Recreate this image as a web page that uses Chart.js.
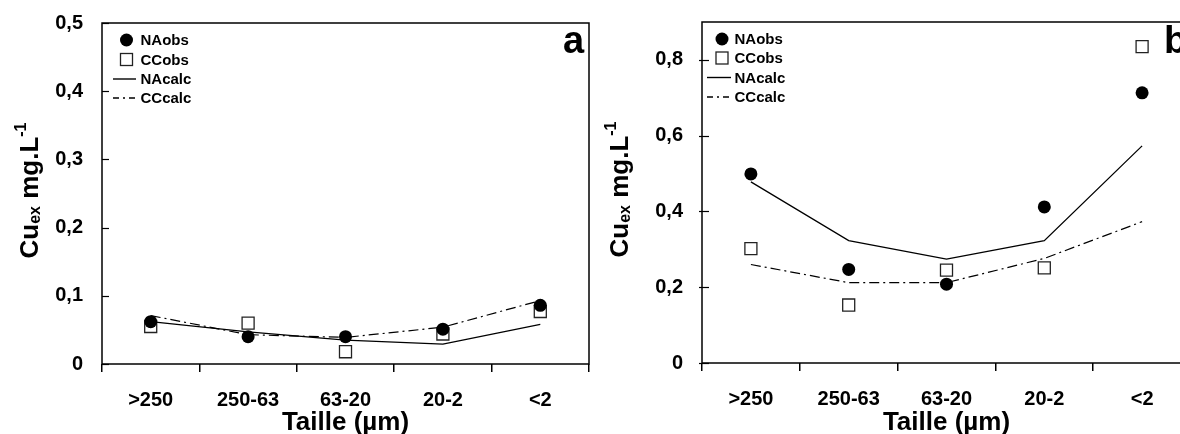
<!DOCTYPE html>
<html><head><meta charset="utf-8">
<script src="https://cdn.jsdelivr.net/npm/chart.js@4/dist/chart.umd.min.js"></script>
<style>
html,body{margin:0;padding:0;background:#fff;overflow:hidden;width:1180px;height:434px;}
#ca{position:absolute;left:0;top:0;}
#cb{position:absolute;left:590px;top:0;}
</style></head><body>
<canvas id="ca" width="590" height="434"></canvas>
<canvas id="cb" width="602" height="434"></canvas>
<script>
const categories = ['>250', '250-63', '63-20', '20-2', '<2'];
const seriesNames = ['NAobs', 'CCobs', 'NAcalc', 'CCcalc'];
// panel a
const naObsA  = [0.062, 0.040, 0.040, 0.051, 0.086];
const ccObsA  = [0.055, 0.060, 0.018, 0.044, 0.077];
const naCalcA = [0.062, 0.047, 0.035, 0.029, 0.058];
const ccCalcA = [0.071, 0.043, 0.039, 0.054, 0.093];
// panel b
const naObsB  = [0.499, 0.247, 0.208, 0.412, 0.713];
const ccObsB  = [0.302, 0.153, 0.245, 0.251, 0.835];
const naCalcB = [0.478, 0.323, 0.274, 0.323, 0.573];
const ccCalcB = [0.260, 0.212, 0.212, 0.276, 0.373];
// ticks
const yTicksA = [0, 0.1, 0.2, 0.3, 0.4, 0.5];
const yTickLabelsA = ['0', '0,1', '0,2', '0,3', '0,4', '0,5'];
const yTicksB = [0, 0.2, 0.4, 0.6, 0.8];
const yTickLabelsB = ['0', '0,2', '0,4', '0,6', '0,8'];
const xTitle = 'Taille (µm)';
const yTitleParts = [['Cu', 'main'], ['ex', 'sub'], [' mg.L', 'main'], ['-1', 'sup']];

const FONT = '"Liberation Sans", Arial, Helvetica, sans-serif';
const DASHDOT = [10, 4, 2, 4];

const deco = {
  id: 'deco',
  afterDraw(chart, args, o) {
    const ctx = chart.ctx;
    const a = chart.chartArea;
    ctx.save();
    // frame
    ctx.strokeStyle = '#000';
    ctx.lineWidth = 1.5;
    ctx.strokeRect(a.left, a.top, a.right - a.left, a.bottom - a.top);
    // y ticks (inside)
    const ys = chart.scales.y;
    ctx.lineWidth = 1.2;
    ys.ticks.forEach(t => {
      const y = Math.round(ys.getPixelForValue(t.value)) + 0.5;
      ctx.beginPath();
      ctx.moveTo(a.left - o.tickOut, y);
      ctx.lineTo(a.left + 7, y);
      ctx.stroke();
    });
    // y title
    ctx.fillStyle = '#000';
    ctx.textBaseline = 'alphabetic';
    ctx.textAlign = 'left';
    const fMain = 'bold 26px ' + FONT, fSmall = 'bold 16px ' + FONT;
    let total = 0;
    yTitleParts.forEach(p => { ctx.font = p[1] === 'main' ? fMain : fSmall; total += ctx.measureText(p[0]).width; });
    const cy = (a.top + a.bottom) / 2 - 3;
    ctx.translate(o.yTitleX, cy + total / 2);
    ctx.rotate(-Math.PI / 2);
    let x = 0;
    yTitleParts.forEach(p => {
      ctx.font = p[1] === 'main' ? fMain : fSmall;
      const dy = p[1] === 'sub' ? 2 : (p[1] === 'sup' ? -12 : 0);
      ctx.fillText(p[0], x, dy);
      x += ctx.measureText(p[0]).width;
    });
    ctx.restore();

    // legend
    ctx.save();
    const L = o.legend;
    ctx.font = 'bold 15px ' + FONT;
    ctx.textBaseline = 'middle';
    ctx.textAlign = 'left';
    seriesNames.forEach((name, i) => {
      const y = L.rows[i];
      const sx = a.left + L.sym;
      if (i === 0) {
        ctx.fillStyle = '#000';
        ctx.beginPath(); ctx.arc(sx, y, 6.5, 0, Math.PI * 2); ctx.fill();
      } else if (i === 1) {
        ctx.fillStyle = '#fff'; ctx.strokeStyle = '#222'; ctx.lineWidth = 1.3;
        ctx.fillRect(sx - 6, y - 6, 12, 12); ctx.strokeRect(sx - 6, y - 6, 12, 12);
      } else {
        ctx.strokeStyle = '#000'; ctx.lineWidth = 1.4;
        ctx.setLineDash(i === 3 ? [6, 4, 2, 4] : []);
        ctx.beginPath(); ctx.moveTo(a.left + L.l0, y); ctx.lineTo(a.left + L.l1, y); ctx.stroke();
        ctx.setLineDash([]);
      }
      ctx.fillStyle = '#000';
      ctx.fillText(name, a.left + L.text, y + 1);
    });
    // panel letter
    ctx.font = 'bold 38px ' + FONT;
    ctx.textBaseline = 'alphabetic';
    ctx.textAlign = 'left';
    ctx.fillText(o.letter, a.right - o.letterDx, o.letterY);
    ctx.restore();
  }
};

function makeChart(id, d, yTicks, yLabels, yMax, cfg) {
  return new Chart(document.getElementById(id), {
    type: 'line',
    data: {
      labels: categories,
      datasets: [
        { label: seriesNames[0], data: d[0], showLine: false, order: 0,
          pointStyle: 'circle', pointRadius: 6.5, pointBackgroundColor: '#000', pointBorderColor: '#000', pointBorderWidth: 0 },
        { label: seriesNames[1], data: d[1], showLine: false, order: 1,
          pointStyle: 'rect', pointRadius: 8.5, pointBackgroundColor: '#fff', pointBorderColor: '#222', pointBorderWidth: 1.3 },
        { label: seriesNames[2], data: d[2], order: 2, pointRadius: 0,
          borderColor: '#000', borderWidth: 1.3, tension: 0, fill: false },
        { label: seriesNames[3], data: d[3], order: 3, pointRadius: 0,
          borderColor: '#000', borderWidth: 1.2, borderDash: DASHDOT, tension: 0, fill: false }
      ]
    },
    options: {
      responsive: false, animation: false, devicePixelRatio: 1,
      layout: { autoPadding: false, padding: { left: 0, right: 1, top: cfg.top, bottom: 0 } },
      plugins: { legend: { display: false }, tooltip: { enabled: false }, deco: cfg.deco },
      scales: {
        x: {
          type: 'category', offset: true,
          grid: { display: true, offset: true, drawOnChartArea: false, drawTicks: true, tickLength: 8, color: '#000', lineWidth: 1.5 },
          border: { display: false },
          ticks: { color: '#000', font: { family: FONT, size: 20, weight: 'bold' }, padding: 16, maxRotation: 0, autoSkip: false },
          title: { display: true, text: xTitle, color: '#000', font: { family: FONT, size: 26, weight: 'bold', lineHeight: 1 }, padding: { top: 0, bottom: -2 } },
          afterFit: s => { s.height = cfg.xh; s.paddingLeft = 0; s.paddingRight = 0; }
        },
        y: {
          type: 'linear', min: 0, max: yMax,
          afterBuildTicks: s => { s.ticks = yTicks.map(v => ({ value: v })); },
          grid: { display: false },
          border: { display: false },
          ticks: { color: '#000', font: { family: FONT, size: 20, weight: 'bold' }, padding: 11,
                   callback: v => yLabels[yTicks.indexOf(v)] },
          afterFit: s => { s.width = cfg.yw; s.paddingTop = 0; s.paddingBottom = 0; }
        }
      }
    },
    plugins: [deco]
  });
}

makeChart('ca', [naObsA, ccObsA, naCalcA, ccCalcA], yTicksA, yTickLabelsA, 0.5, {
  top: 23, xh: 70, yw: 102,
  deco: { letter: 'a', letterDx: 26, letterY: 53, yTitleX: 38, tickOut: 0,
          legend: { rows: [40, 59.5, 79, 98], sym: 24.5, l0: 11, l1: 34, text: 38.5 } }
});
makeChart('cb', [naObsB, ccObsB, naCalcB, ccCalcB], yTicksB, yTickLabelsB, 0.9, {
  top: 22, xh: 71, yw: 112,
  deco: { letter: 'b', letterDx: 27, letterY: 53, yTitleX: 38, tickOut: 3,
          legend: { rows: [39, 58, 77.5, 97], sym: 20, l0: 5, l1: 29, text: 32.5 } }
});
</script>
</body></html>
